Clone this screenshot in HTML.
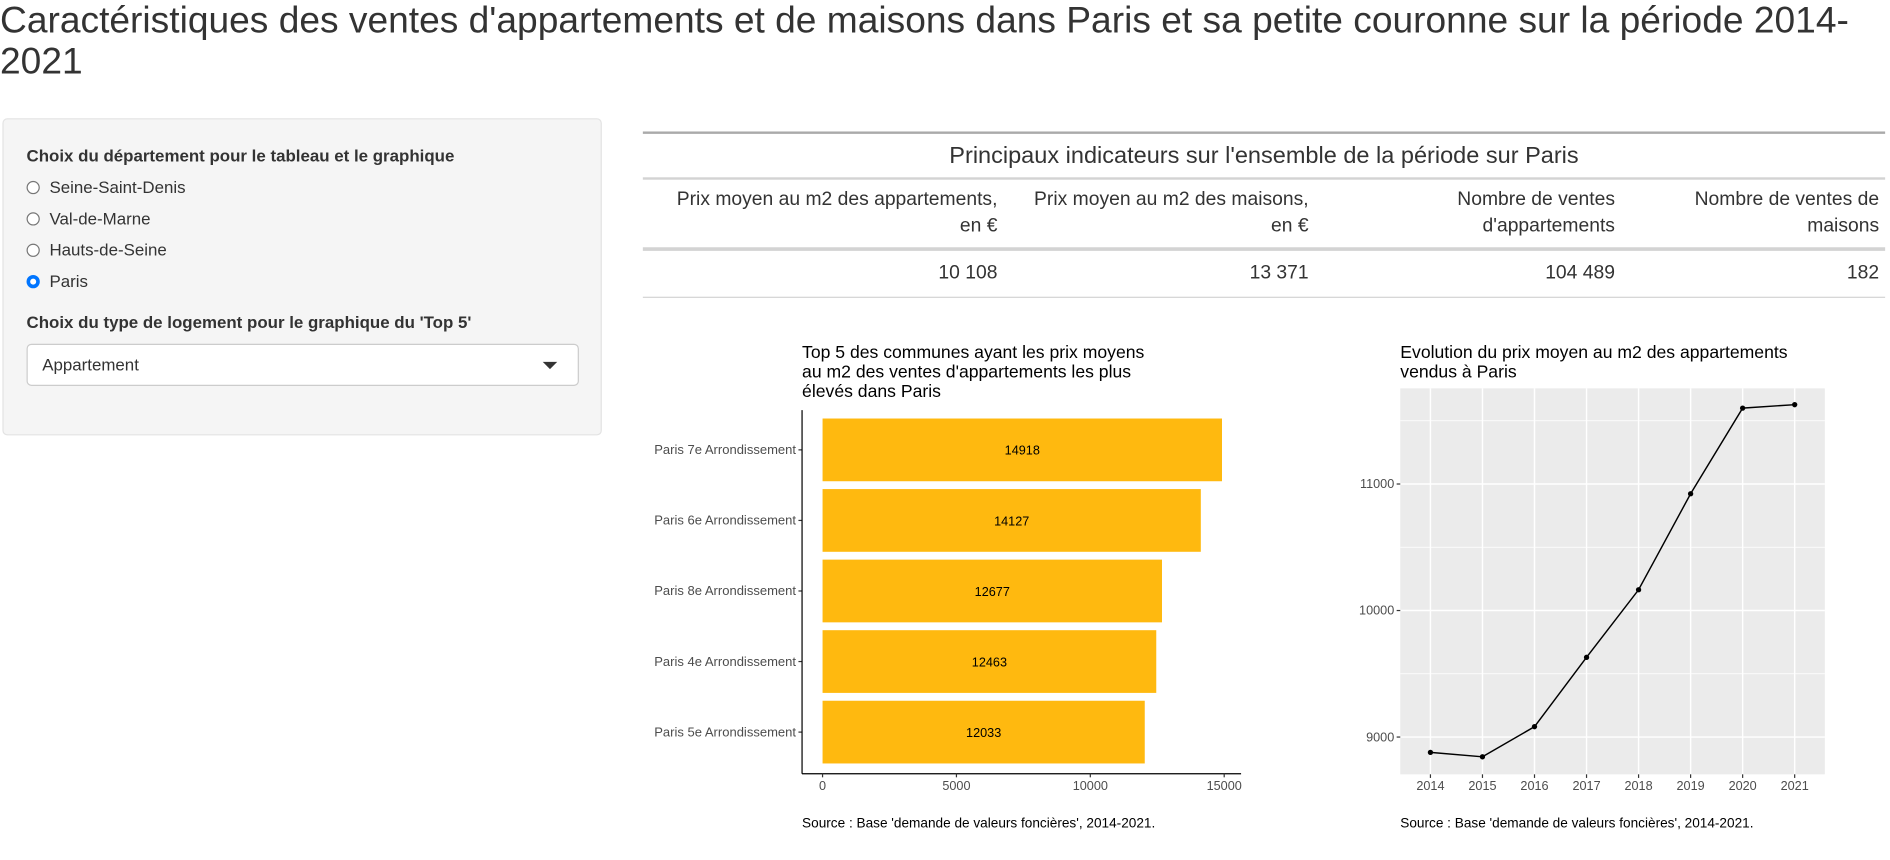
<!DOCTYPE html>
<html><head><meta charset="utf-8">
<style>
html,body{margin:0;padding:0;width:1890px;height:860px;overflow:hidden;background:#fff;}
#wrap{position:absolute;left:0;top:0;width:1567px;height:713px;transform:scale(1.2061);transform-origin:0 0;font-family:"Liberation Sans",sans-serif;color:#333;}
.abs{position:absolute;}
h1{position:absolute;left:0;top:0px;margin:0;font-weight:normal;font-size:30.8px;line-height:34px;width:1565px;color:#333;}
.panel{left:2px;top:98px;width:497px;height:263px;background:#f5f5f5;border:1px solid #e3e3e3;border-radius:4px;box-sizing:border-box;}
.lbl{font-weight:bold;font-size:14px;color:#333;}
.radio{font-size:14px;display:flex;align-items:center;}
.radio span.c{width:11px;height:11px;border:1px solid #767676;border-radius:50%;box-sizing:border-box;margin-right:8px;background:#fff;}
.radio span.c.on{border:3px solid #0075ff;}
.sel{left:22px;top:285px;width:458px;height:35px;background:#fff;border:1px solid #ccc;border-radius:4px;box-sizing:border-box;font-size:14px;padding:8px 12px;}
.tbl{font-family:"Liberation Sans",sans-serif;}
.hd{font-size:16px;text-align:right;line-height:22px;color:#333;}
.val{font-size:16px;text-align:right;color:#333;}
</style></head><body>
<div id="wrap">
<h1>Caractéristiques des ventes d'appartements et de maisons dans Paris et sa petite couronne sur la période 2014-2021</h1>

<div class="abs panel"></div>
<div class="abs lbl" style="left:22px;top:121px">Choix du département pour le tableau et le graphique</div>
<div class="abs radio" style="left:22px;top:147px"><span class="c"></span>Seine-Saint-Denis</div>
<div class="abs radio" style="left:22px;top:173px"><span class="c"></span>Val-de-Marne</div>
<div class="abs radio" style="left:22px;top:199px"><span class="c"></span>Hauts-de-Seine</div>
<div class="abs radio" style="left:22px;top:225px"><span class="c on"></span>Paris</div>
<div class="abs lbl" style="left:22px;top:259px">Choix du type de logement pour le graphique du 'Top 5'</div>
<div class="abs sel">Appartement<span style="position:absolute;right:17px;top:14px;width:0;height:0;border-left:6px solid transparent;border-right:6px solid transparent;border-top:6px solid #333"></span></div>

<div class="tbl">
<div class="abs" style="left:533px;top:109px;width:1030px;height:2px;background:#aaa"></div>
<div class="abs" style="left:533px;top:118px;width:1030px;text-align:center;font-size:19.5px;color:#333">Principaux indicateurs sur l'ensemble de la période sur Paris</div>
<div class="abs" style="left:533px;top:147px;width:1030px;height:2px;background:#d3d3d3"></div>
<div class="abs hd" style="left:533px;top:155px;width:294px">Prix moyen au m2 des appartements,<br>en €</div>
<div class="abs hd" style="left:840px;top:155px;width:245px">Prix moyen au m2 des maisons,<br>en €</div>
<div class="abs hd" style="left:1095px;top:155px;width:244px">Nombre de ventes<br>d'appartements</div>
<div class="abs hd" style="left:1350px;top:155px;width:208px">Nombre de ventes de<br>maisons</div>
<div class="abs" style="left:533px;top:205px;width:1030px;height:3px;background:#d3d3d3"></div>
<div class="abs val" style="left:533px;top:218px;width:294px">10 108</div>
<div class="abs val" style="left:840px;top:218px;width:245px">13 371</div>
<div class="abs val" style="left:1095px;top:218px;width:244px">104 489</div>
<div class="abs val" style="left:1350px;top:218px;width:208px">182</div>
<div class="abs" style="left:533px;top:246px;width:1030px;height:1px;background:#d3d3d3"></div>
</div>

<svg id="charts" class="abs" style="left:0;top:0" width="1567" height="713" font-family="Liberation Sans, sans-serif"></svg>
</div>
<script>
const barCats=["Paris 7e Arrondissement","Paris 6e Arrondissement","Paris 8e Arrondissement","Paris 4e Arrondissement","Paris 5e Arrondissement"];
const barVals=[14918,14127,12677,12463,12033];
const barTicks=[0,5000,10000,15000];
const years=[2014,2015,2016,2017,2018,2019,2020,2021];
const prices=[8879,8844,9082,9630,10164,10923,11600,11627];
const priceTicks=[9000,10000,11000];
const priceMinor=[8500,9500,10500,11500];

const svg=document.getElementById('charts');
const NS='http://www.w3.org/2000/svg';
function mk(tag,attrs,parent){const e=document.createElementNS(NS,tag);for(const k in attrs)e.setAttribute(k,attrs[k]);(parent||svg).appendChild(e);return e;}
function txt(x,y,s,attrs){const t=mk('text',Object.assign({x:x,y:y},attrs||{}));t.textContent=s;return t;}

// ---- Bar chart
const bx=v=>682+v*(333/15000);
const band=i=>373+i*58.5;
const bg=mk('g',{});


['Top 5 des communes ayant les prix moyens','au m2 des ventes d\'appartements les plus','élevés dans Paris'].forEach((s,i)=>{
  const t=txt(665,297+i*16,s,{'font-size':'14.6','fill':'#000'});bg.appendChild(t);
  
  
});
barCats.forEach((c,i)=>{
  const y=band(i);
  const r=mk('rect',{x:bx(0),y:y-26,width:bx(barVals[i])-bx(0),height:52,fill:'#ffb90f'},bg);
  
  
  const l=txt((bx(0)+bx(barVals[i]))/2,y+4,String(barVals[i]),{'font-size':'10.5','text-anchor':'middle','fill':'#000'});bg.appendChild(l);
  
  
  const cl=txt(660,y+3.5,c,{'font-size':'10.8','text-anchor':'end','fill':'#4d4d4d'});bg.appendChild(cl);
  
  
  mk('line',{x1:662,x2:665,y1:y,y2:y,stroke:'#333'},bg);
});
mk('line',{x1:665,x2:665,y1:340,y2:641.5,stroke:'#000','stroke-width':1},bg);
mk('line',{x1:665,x2:1029,y1:641.5,y2:641.5,stroke:'#000','stroke-width':1},bg);
barTicks.forEach(v=>{
  mk('line',{x1:bx(v),x2:bx(v),y1:641.5,y2:644.5,stroke:'#333'},bg);
  const t=txt(bx(v),655,String(v),{'font-size':'10.5','text-anchor':'middle','fill':'#4d4d4d'});bg.appendChild(t);
  
  
});
const s1=txt(665,686,"Source : Base 'demande de valeurs foncières', 2014-2021.",{'font-size':'11.3','fill':'#000'});bg.appendChild(s1);



// ---- Line chart
const lx=y=>1186+(y-2014)*((1488-1186)/7);
const ly=v=>401.3-(v-11000)*(104.9/1000);
const lg=mk('g',{});


['Evolution du prix moyen au m2 des appartements','vendus à Paris'].forEach((s,i)=>{
  const t=txt(1161,297+i*16,s,{'font-size':'14.6','fill':'#000'});lg.appendChild(t);
  
  
});
mk('rect',{x:1161,y:322,width:352,height:320,fill:'#ebebeb'},lg);
priceMinor.forEach(v=>{const y=ly(v);if(y>322&&y<642)mk('line',{x1:1161,x2:1513,y1:y,y2:y,stroke:'#fff','stroke-width':0.6},lg);});
priceTicks.forEach(v=>{
  mk('line',{x1:1161,x2:1513,y1:ly(v),y2:ly(v),stroke:'#fff','stroke-width':1.2},lg);
  mk('line',{x1:1158,x2:1161,y1:ly(v),y2:ly(v),stroke:'#333'},lg);
  const t=txt(1156,ly(v)+3.5,String(v),{'font-size':'10.5','text-anchor':'end','fill':'#4d4d4d'});lg.appendChild(t);
  
  
});
years.forEach(yr=>{
  mk('line',{x1:lx(yr),x2:lx(yr),y1:322,y2:642,stroke:'#fff','stroke-width':1.2},lg);
  mk('line',{x1:lx(yr),x2:lx(yr),y1:642,y2:645,stroke:'#333'},lg);
  const t=txt(lx(yr),655,String(yr),{'font-size':'10.5','text-anchor':'middle','fill':'#4d4d4d'});lg.appendChild(t);
  
  
});
const path=mk('polyline',{points:years.map((yr,i)=>lx(yr)+','+ly(prices[i])).join(' '),fill:'none',stroke:'#000','stroke-width':1.2},lg);


years.forEach((yr,i)=>{
  const c=mk('circle',{cx:lx(yr),cy:ly(prices[i]),r:2.2,fill:'#000'},lg);
  
  
});
const s2=txt(1161,686,"Source : Base 'demande de valeurs foncières', 2014-2021.",{'font-size':'11.3','fill':'#000'});lg.appendChild(s2);


</script>
</body></html>
